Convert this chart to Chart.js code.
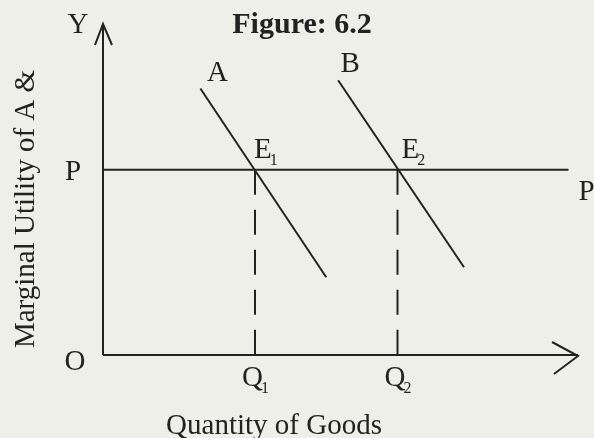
<!DOCTYPE html>
<html>
<head>
<meta charset="utf-8">
<script src="https://cdn.jsdelivr.net/npm/chart.js@4"></script>
<style>
  html, body { margin: 0; padding: 0; background: #efefea; }
  #wrap { width: 594px; height: 438px; position: relative; }
</style>
</head>
<body>
<div id="wrap"><canvas id="utilityChart"></canvas></div>
<script>
// values (axes run 0..100 on both sides)
var priceLevel = 56;
var qtyPoints = [32, 62];
var qtyNames = ['Q', 'Q'];
var qtySubs = ['1', '2'];
var curveNames = ['A', 'B'];
var curveA = [{x: 20.5, y: 80.5}, {x: 47, y: 23.5}];
var curveB = [{x: 49.5, y: 83}, {x: 76, y: 26.5}];
var pLineEnd = 98;
var axisMax = 100;

var ink = '#222222';
var serif = '"Liberation Serif", "Times New Roman", serif';

function lineSet(data, dashed) {
    return {
        data: data,
        showLine: true,
        borderColor: ink,
        borderWidth: 2,
        borderDash: dashed ? [25, 15] : [],
        pointRadius: 0,
        clip: false
    };
}

var labelsPlugin = {
    id: 'figureLabels',
    afterDatasetsDraw: function(chart) {
        var ctx = chart.ctx;
        var xs = chart.scales.x, ys = chart.scales.y;
        var ox = xs.getPixelForValue(0), oy = ys.getPixelForValue(0);
        var xEnd = xs.getPixelForValue(axisMax), yEnd = ys.getPixelForValue(axisMax);
        var py = ys.getPixelForValue(priceLevel);

        ctx.save();
        ctx.strokeStyle = ink;
        ctx.lineWidth = 2;
        // arrow heads
        ctx.beginPath();
        ctx.moveTo(ox - 8, yEnd + 21); ctx.lineTo(ox, yEnd); ctx.lineTo(ox + 9, yEnd + 21);
        ctx.moveTo(xEnd - 26, oy - 13); ctx.lineTo(xEnd, oy + 1); ctx.lineTo(xEnd - 24, oy + 19);
        ctx.stroke();

        ctx.fillStyle = ink;
        ctx.textBaseline = 'alphabetic';
        ctx.textAlign = 'center';

        function sub(main, s, x, y) {
            ctx.font = '29px ' + serif;
            ctx.textAlign = 'left';
            var w = ctx.measureText(main).width;
            ctx.fillText(main, x, y);
            ctx.font = '16px ' + serif;
            ctx.fillText(s, x + w - 2, y + 7);
            ctx.textAlign = 'center';
        }

        ctx.font = 'bold 30px ' + serif;
        ctx.fillText('Figure: 6.2', 302, 33);

        ctx.font = '29px ' + serif;
        ctx.fillText('Y', ox - 25, 33);
        ctx.fillText('P', ox - 30, py + 10);
        ctx.fillText('O', ox - 28, oy + 15);
        ctx.textAlign = 'left';
        ctx.fillText('P', xs.getPixelForValue(pLineEnd) + 10, py + 30);
        ctx.textAlign = 'center';

        ctx.fillText(curveNames[0], xs.getPixelForValue(curveA[0].x) + 17, ys.getPixelForValue(curveA[0].y) - 8);
        ctx.fillText(curveNames[1], xs.getPixelForValue(curveB[0].x) + 12, ys.getPixelForValue(curveB[0].y) - 8);

        sub('E', '1', xs.getPixelForValue(qtyPoints[0]) - 1, py - 12);
        sub('E', '2', xs.getPixelForValue(qtyPoints[1]) + 4, py - 12);

        qtyPoints.forEach(function(q, i) {
            sub(qtyNames[i], qtySubs[i], xs.getPixelForValue(q) - 13, oy + 31);
        });

        ctx.font = '29px ' + serif;
        ctx.fillText('Quantity of Goods', 274, 434);

        ctx.translate(34, 209);
        ctx.rotate(-Math.PI / 2);
        ctx.fillText('Marginal Utility of A &', 0, 0);
        ctx.restore();
    }
};

function renderUtilityChart() {
    var ctx = document.getElementById('utilityChart').getContext('2d');
    new Chart(ctx, {
        type: 'scatter',
        data: {
            datasets: [
                lineSet([{x: 0, y: 0}, {x: 0, y: axisMax}]),
                lineSet([{x: 0, y: 0}, {x: axisMax, y: 0}]),
                lineSet([{x: 0, y: priceLevel}, {x: pLineEnd, y: priceLevel}]),
                lineSet(curveA),
                lineSet(curveB),
                lineSet([{x: qtyPoints[0], y: priceLevel}, {x: qtyPoints[0], y: 0}], true),
                lineSet([{x: qtyPoints[1], y: priceLevel}, {x: qtyPoints[1], y: 0}], true)
            ]
        },
        options: {
            responsive: true,
            maintainAspectRatio: false,
            animation: false,
            layout: { padding: { left: 103, right: 16, top: 24, bottom: 83 } },
            scales: {
                x: { type: 'linear', min: 0, max: axisMax, display: false },
                y: { type: 'linear', min: 0, max: axisMax, display: false }
            },
            plugins: {
                legend: { display: false },
                tooltip: { enabled: false }
            }
        },
        plugins: [labelsPlugin]
    });
}

document.addEventListener('DOMContentLoaded', renderUtilityChart);
</script>
</body>
</html>
